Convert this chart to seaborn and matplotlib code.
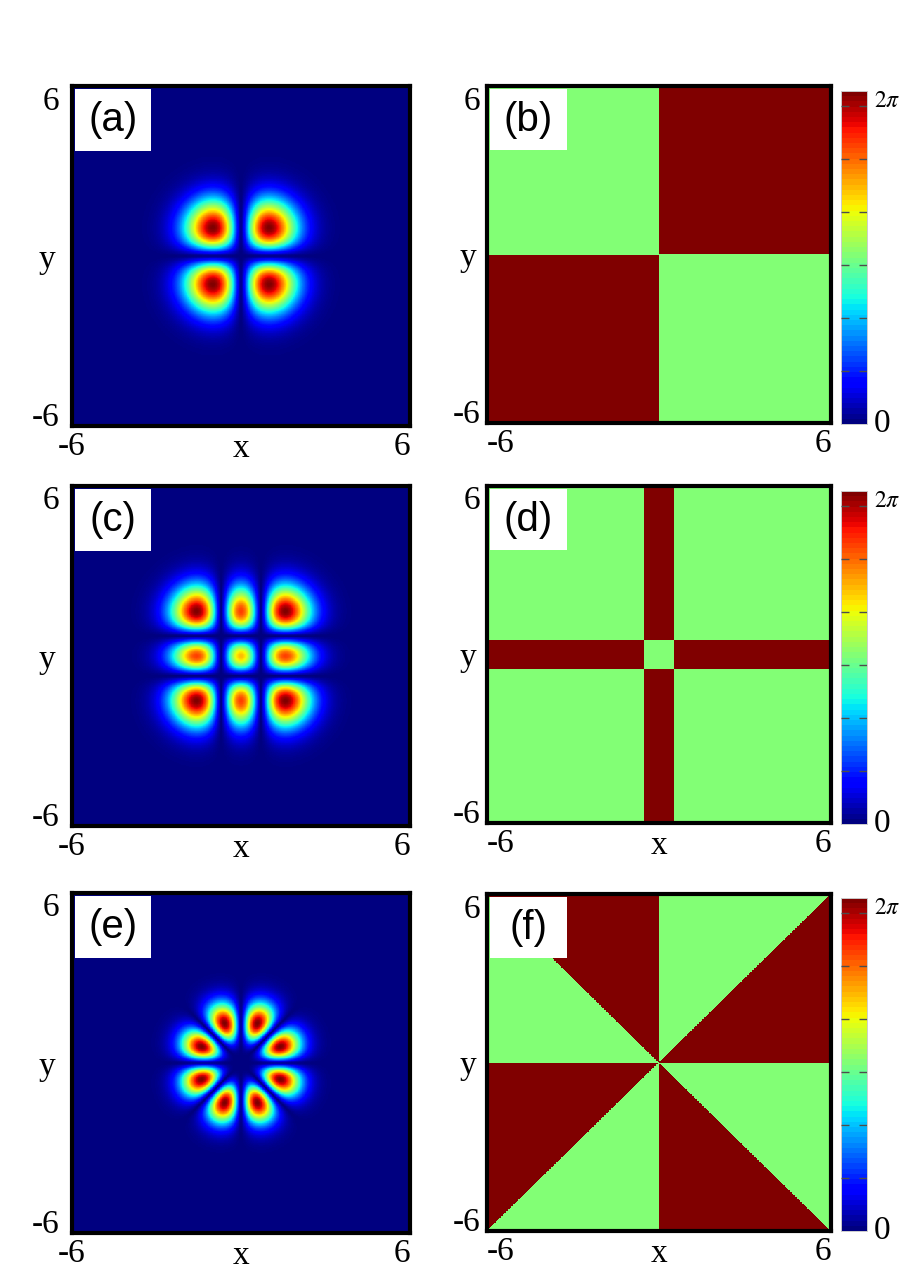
import numpy as np
import matplotlib
matplotlib.use("Agg")
import matplotlib.pyplot as plt
from matplotlib.patches import Rectangle
import seaborn as sns

sns.set_theme(style="white")
plt.rcParams['font.family'] = ['Liberation Serif', 'DejaVu Serif']
plt.rcParams['mathtext.fontset'] = 'stix'
plt.rcParams['text.color'] = 'black'
plt.rcParams['xtick.color'] = 'black'
plt.rcParams['ytick.color'] = 'black'

# grid / axis range
x_min, x_max = -6.0, 6.0
n_grid = 481
tick_labels = ['-6', '6']

lobe_pos_hg11 = 1.0        # (a) lobes at x, y = +-1
petal_radius = 1.52        # (e) 8 petals, ring radius
petal_count = 8
stripe_half = 0.52         # (d) dark-red stripe half width
dens_power = 1.25          # colour scale of the density panels
phase_pos = 2 * np.pi      # dark red
phase_neg = np.pi          # light green
cbar_dashes = [1, 2, 3, 4, 5, 6]

panel_labels = ['(a)', '(b)', '(c)', '(d)', '(e)', '(f)']
show_xlabel = [True, False, True, True, True, True]

xs = np.linspace(x_min, x_max, n_grid)
ys = xs[::-1]                      # heatmap row 0 is on top
X, Y = np.meshgrid(xs, ys)
R2 = X**2 + Y**2
TH = np.arctan2(Y, X)

# fields
w_a = lobe_pos_hg11
psi_a = X * Y * np.exp(-R2 / (2 * w_a**2))
psi_c = (4 * X**2 - 2) * (4 * Y**2 - 2) * np.exp(-R2 / 2)
s_e = petal_radius**2 / (petal_count / 2)
psi_e = R2**(petal_count / 4) * np.sin(petal_count / 2 * TH) * np.exp(-R2 / (2 * s_e))
sign_d = -(np.abs(X) - stripe_half) * (np.abs(Y) - stripe_half)

dens = [np.abs(psi_a)**dens_power, np.abs(psi_c)**dens_power, np.abs(psi_e)**dens_power]
dens = [d / d.max() for d in dens]
phases = [np.where(psi_a > 0, phase_pos, phase_neg),
          np.where(sign_d > 0, phase_pos, phase_neg),
          np.where(psi_e >= 0, phase_pos, phase_neg)]

W, H = 901, 1274
fig = plt.figure(figsize=(W / 100, H / 100), dpi=100)


def fbox(x0, y0, x1, y1):
    return [x0 / W, 1 - y1 / H, (x1 - x0) / W, (y1 - y0) / H]


left_rows = [(86, 426), (486, 826), (893, 1233)]
right_rows = [(86, 423), (486, 823), (894, 1231)]
cbar_rows = [(91, 424), (491, 824), (898, 1231)]

jet = matplotlib.colormaps['jet']
jet64 = jet.resampled(64)


def style_axes(ax, label, left_panel, xlabel):
    for sp in ax.spines.values():
        sp.set_visible(True)
        sp.set_linewidth(3)
        sp.set_color('black')
    ax.set_xticks([0, n_grid])
    ax.set_xticklabels(tick_labels, fontsize=24)
    ax.set_yticks([0, n_grid])
    ax.set_yticklabels(tick_labels[::-1], fontsize=24, rotation=0)
    ax.tick_params(axis='both', length=0)
    ax.tick_params(axis='x', pad=4)
    ax.tick_params(axis='y', pad=9 if left_panel else 5)
    xl = ax.get_xticklabels()
    xl[0].set_ha('center' if left_panel else 'left')
    xl[1].set_ha('right')
    yl = ax.get_yticklabels()
    yl[0].set_va('top')
    yl[1].set_va('baseline')
    ax.add_patch(Rectangle((0.009, 0.81), 0.225, 0.18, transform=ax.transAxes,
                           facecolor='white', edgecolor='none', zorder=5))
    ax.text(0.121, 0.9, label, transform=ax.transAxes, ha='center', va='center',
            fontsize=29, family=['Liberation Sans', 'DejaVu Sans'], zorder=6)
    if xlabel:
        ax.text(0.5, -0.092, 'x', transform=ax.transAxes, ha='center',
                va='baseline', fontsize=24)
    ax.text(-0.074 if left_panel else -0.055, 0.49, 'y', transform=ax.transAxes,
            ha='center', va='center', fontsize=24)


for row in range(3):
    y0, y1 = left_rows[row]
    ax = fig.add_axes(fbox(72, y0, 410, y1))
    sns.heatmap(dens[row], ax=ax, cmap=jet, vmin=0, vmax=1, cbar=False,
                xticklabels=False, yticklabels=False, rasterized=True)
    style_axes(ax, panel_labels[2 * row], True, show_xlabel[2 * row])

    y0, y1 = right_rows[row]
    ax = fig.add_axes(fbox(487, y0, 831, y1))
    c0, c1 = cbar_rows[row]
    cax = fig.add_axes(fbox(841, c0, 867, c1))
    sns.heatmap(phases[row], ax=ax, cmap=jet64, vmin=0, vmax=2 * np.pi,
                cbar=True, cbar_ax=cax, xticklabels=False, yticklabels=False,
                rasterized=True)
    style_axes(ax, panel_labels[2 * row + 1], False, show_xlabel[2 * row + 1])

    cbar = ax.collections[0].colorbar
    cbar.set_ticks([0, 2 * np.pi], labels=['0', r'$2\pi$'])
    lab = cax.get_yticklabels()
    lab[0].set_fontsize(24)
    lab[0].set_va('center')
    lab[1].set_fontsize(17)
    lab[1].set_va('top')
    cax.tick_params(axis='y', which='both', length=0, pad=5)
    # dashed tick marks across the bar
    cax.hlines(cbar_dashes, 0.0, 0.3, colors='0.3', linewidth=1, zorder=5)
    cax.hlines(cbar_dashes, 0.7, 1.0, colors='0.3', linewidth=1, zorder=5)
    for sp in cax.spines.values():
        sp.set_visible(True)
        sp.set_linewidth(0.6)
        sp.set_color('0.8')

fig.savefig('out.png', dpi=100)
